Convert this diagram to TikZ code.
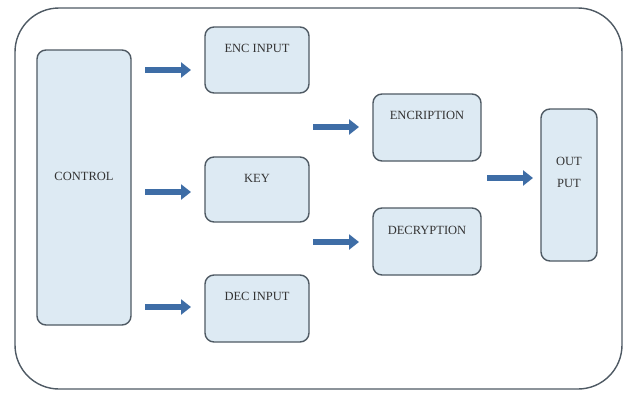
\documentclass[tikz,border=0pt]{standalone}
\usepackage{fontspec}
\setmainfont{Liberation Serif}
\usetikzlibrary{positioning,arrows.meta}
\definecolor{boxfill}{HTML}{DDEAF3}
\definecolor{boxline}{HTML}{4F5A64}
\definecolor{arrowblue}{HTML}{3E6DA6}
\definecolor{txtgray}{HTML}{333333}
\tikzset{
  blk/.style={draw=boxline, fill=boxfill, line width=1.4pt, rounded corners=9pt, inner sep=0pt},
  lab/.style={font=\fontsize{12.5}{22}\selectfont, text=txtgray, inner sep=0pt, align=center},
  barrow/.style={arrowblue, line width=6pt, -{Triangle[length=10pt,width=15pt]}}
}
\begin{document}
\begin{tikzpicture}[x=1pt, y=-1pt]
  \useasboundingbox[fill=white] (0,0) rectangle (627,394);
  % outer frame
  \draw[boxline, line width=1.4pt, rounded corners=44pt] (15,8) rectangle (622,389);
  % blocks
  \node[blk, minimum width=94pt, minimum height=275pt] (ctrl) at (84,187.5) {};
  \node[blk, minimum width=104pt, minimum height=66pt] (encin) at (257,60) {};
  \node[blk, minimum width=104pt, minimum height=65pt] (key) at (257,189.5) {};
  \node[blk, minimum width=104pt, minimum height=67pt] (decin) at (257,308.5) {};
  \node[blk, minimum width=108pt, minimum height=67pt] (encr) at (427,127.5) {};
  \node[blk, minimum width=108pt, minimum height=67pt] (decr) at (427,241.5) {};
  \node[blk, minimum width=56pt, minimum height=152pt] (out) at (569,185) {};
  % labels
  \node[lab, below=123pt of ctrl.north] {CONTROL};
  \node[lab, below=18pt of encin.north] {ENC INPUT};
  \node[lab, below=18pt of key.north] {KEY};
  \node[lab, below=18pt of decin.north] {DEC INPUT};
  \node[lab, below=18pt of encr.north] {ENCRIPTION};
  \node[lab, below=19pt of decr.north] {DECRYPTION};
  \node[lab, below=49pt of out.north] {OUT\\PUT};
  % arrows
  \coordinate (a1) at (145,70);  \coordinate (b1) at (191,70);
  \coordinate (a2) at (145,192); \coordinate (b2) at (191,192);
  \coordinate (a3) at (145,307); \coordinate (b3) at (191,307);
  \coordinate (a4) at (313,127); \coordinate (b4) at (359,127);
  \coordinate (a5) at (313,242); \coordinate (b5) at (359,242);
  \coordinate (a6) at (487,178); \coordinate (b6) at (533,178);
  \foreach \i in {1,...,6} {
    \draw[barrow] (a\i) -- (b\i);
  }
\end{tikzpicture}
\end{document}
